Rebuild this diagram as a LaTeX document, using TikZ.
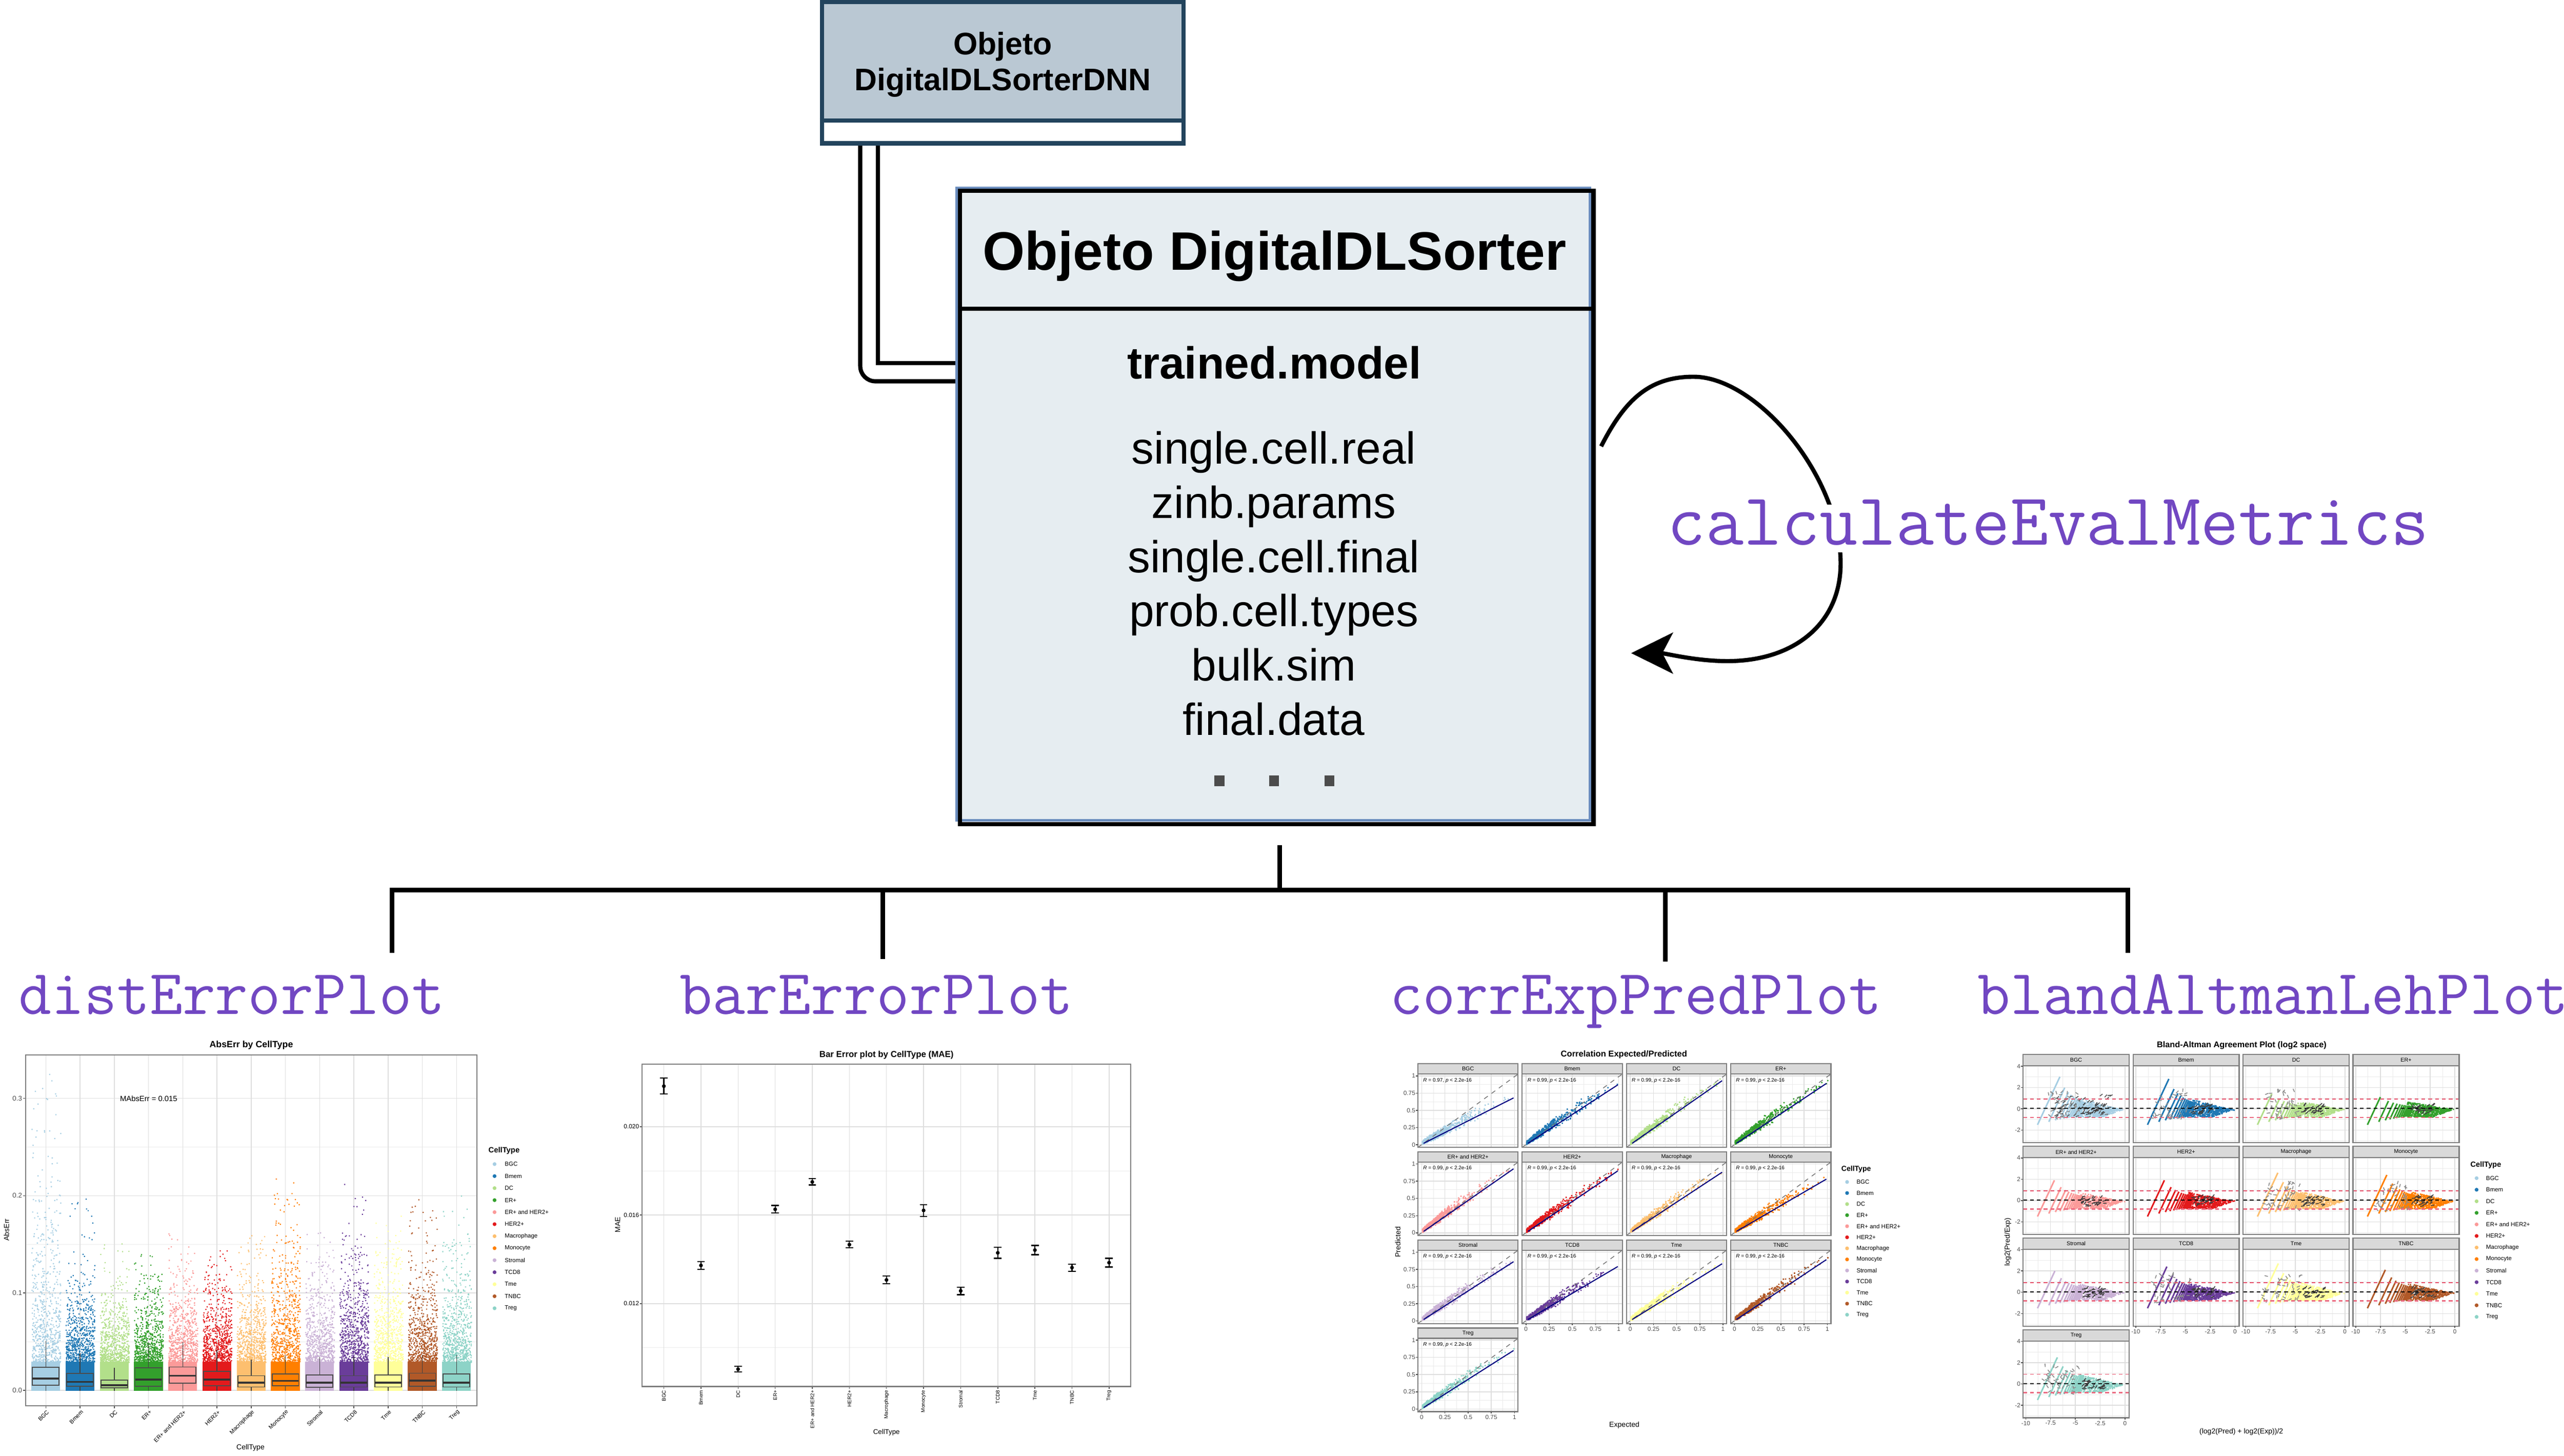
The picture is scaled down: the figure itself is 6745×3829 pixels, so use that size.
\documentclass[tikz,border=0pt]{standalone}
\usepackage{fontspec}
\setmainfont{Liberation Sans}
\usetikzlibrary{arrows.meta,calc}
\definecolor{c0}{HTML}{A6CEE3}\definecolor{c1}{HTML}{1F78B4}\definecolor{c2}{HTML}{B2DF8A}
\definecolor{c3}{HTML}{33A02C}\definecolor{c4}{HTML}{FB9A99}\definecolor{c5}{HTML}{E31A1C}
\definecolor{c6}{HTML}{FDBF6F}\definecolor{c7}{HTML}{FF7F00}\definecolor{c8}{HTML}{CAB2D6}
\definecolor{c9}{HTML}{6A3D9A}\definecolor{c10}{HTML}{FFFF99}\definecolor{c11}{HTML}{B15928}
\definecolor{c12}{HTML}{8DD3C7}
\definecolor{dnnfill}{HTML}{BAC8D3}\definecolor{dnnline}{HTML}{23445D}
\definecolor{mainfill}{HTML}{E6EDF1}\definecolor{mainblue}{HTML}{6C8EBF}
\definecolor{purp}{HTML}{7147C2}\definecolor{gridc}{HTML}{DEDEDE}\definecolor{tickc}{HTML}{4D4D4D}
\definecolor{framec}{HTML}{7F7F7F}\definecolor{stripc}{HTML}{D9D9D9}\definecolor{navy}{HTML}{000080}
\definecolor{ored}{HTML}{E8506A}
\newcommand\fpx[1]{\fontsize{\fpeval{#1*0.25}pt}{\fpeval{#1*0.29}pt}\selectfont}
\newcommand\codefont[1]{\ttfamily\addfontfeatures{FakeBold=3}\fpx{#1}}
\tikzset{
  lw/.style={line width=#1*0.25pt},
  lbl/.style={inner sep=0pt,outer sep=0pt},
  fnname/.style={lbl,anchor=base west,text=purp,font=\codefont{167.5}},
  conn/.style={draw=black,lw=12},
  grid major/.style={draw=gridc,lw=2},
  grid minor/.style={draw=gridc!60,lw=1.2},
  frame/.style={draw=framec,lw=3},
  strip/.style={draw=framec,fill=stripc,lw=3},
  plottitle/.style={lbl,font=\bfseries\fpx{#1}},
  axlabel/.style={lbl,font=\fpx{19}},
  ticktext/.style={lbl,text=tickc,font=\fpx{#1}},
  tickmark/.style={draw=tickc,lw=2},
}
\newcount\nn
\def\dotpx#1#2#3{\pgfpathrectangle{\pgfqpoint{0.25\dimexpr#1pt\relax}{-0.25\dimexpr#2pt\relax}}{\pgfqpoint{0.25\dimexpr#3pt\relax}{0.25\dimexpr#3pt\relax}}}
\def\dashpx#1#2#3#4{\pgfpathmoveto{\pgfqpoint{0.25\dimexpr#1pt\relax}{-0.25\dimexpr#2pt\relax}}\pgfpathlineto{\pgfqpoint{0.25\dimexpr#1pt+#3pt\relax}{-0.25\dimexpr#2pt+#4pt\relax}}}
% random short dashes of a contour: count, colour, x range, y range (in plot values)
\newcommand\contourbits[7]{%
  \begin{pgfscope}\pgfsetstrokecolor{#2}\pgfsetlinewidth{0.55pt}%
  \nn=0 \loop\ifnum\nn<#1 \advance\nn by 1
    \pgfmathsetmacro\xx{\xO+26.1*(#3+(#4-#3)*rnd)}%
    \pgfmathsetmacro\yy{\yO-28*(#5+(#6-#5)*rnd)}%
    \pgfmathsetmacro\aa{rnd*#7}%
    \pgfmathsetmacro\dx{9*cos(\aa)}\pgfmathsetmacro\dy{-9*sin(\aa)}%
    \dashpx{\xx}{\yy}{\dx}{\dy}%
  \repeat
  \pgfusepath{stroke}\end{pgfscope}%
}
% one column of the first plot
\newcommand\distcol[7]{%
  \pgfmathsetmacro\xc{120.4+90.05*#1}%
  \fill[c#1] (\xc-38,3658) rectangle (\xc+38,3582);
  \begin{pgfscope}\pgfsetfillcolor{c#1}%
  \nn=0 \loop\ifnum\nn<700 \advance\nn by 1
    \pgfmathsetmacro\vv{0.028-#6*ln(rnd+0.002)}%
    \ifdim\vv pt<#7pt
      \pgfmathsetmacro\xx{\xc-38+76*rnd}%
      \pgfmathsetmacro\yy{3657-2560*\vv}%
      \dotpx{\xx}{\yy}{3}%
    \fi
  \repeat
  \pgfusepath{fill}\end{pgfscope}
  \pgfmathsetmacro\ya{2500+#2/1.18}\pgfmathsetmacro\yb{2500+#3/1.18}%
  \pgfmathsetmacro\ym{2500+#4/1.18}\pgfmathsetmacro\yw{2500+#5/1.18}%
  \draw[draw=black!75,lw=2] (\xc,\yw) -- (\xc,\ya) (\xc,\yb) -- (\xc,3658);
  \draw[draw=black!70,lw=2.5] (\xc-35,\ya) rectangle (\xc+35,\yb);
  \draw[draw=black!80,lw=5] (\xc-35,\ym) -- (\xc+35,\ym);
  \draw[tickmark] (\xc,3698) -- (\xc,3704);
}
\newcommand\celllegend[7]{% title x,y,size; dot x; text x; y0; pitch
  \node[lbl,anchor=west,font=\bfseries\fpx{#3}] (lt#1) at (#1,#2) {CellType};
  \foreach[count=\ci from 0] \nm in {BGC,Bmem,DC,ER+,ER+ and HER2+,HER2+,Macrophage,Monocyte,Stromal,TCD8,Tme,TNBC,Treg}{
    \pgfmathsetmacro\yy{#6+#7*\ci}
    \fill[c\ci] (#4,\yy) circle (5);
    \node[lbl,anchor=west,font=\fpx{15.5}] (lg#1x\ci) at (#5,\yy) {\nm};
  }
}
\begin{document}
\begin{tikzpicture}[x=0.25pt,y=-0.25pt]
\useasboundingbox (0,0) rectangle (6745,3829);
\fill[white] (0,0) rectangle (6745,3829);
\pgfmathsetseed{42}
% ---------- named anchor points of the connectors
\coordinate (dnnA) at (2310,380);
\coordinate (dnnB) at (2263,380);
\coordinate (mainA) at (2520,955);
\coordinate (mainB) at (2520,1003);
\coordinate (sep) at (3350,812);
\coordinate (trunk) at (3366,2223);
\coordinate (bar) at (3366,2341);
\coordinate (barL) at (1025,2341);
\coordinate (barR) at (5603,2341);
\coordinate (drop1) at (1031,2507);
\coordinate (drop2) at (2322,2522);
\coordinate (drop3) at (4381,2529);
\coordinate (drop4) at (5597,2507);
\coordinate (loopS) at (4212,1174);
\coordinate (loopT) at (4455,991);
\coordinate (loopR) at (4842,1482);
\coordinate (loopB) at (4544,1739);
\coordinate (loopE) at (4291,1718);
% ---------- inheritance connectors
\draw[conn,lw=11] (dnnA) |- (mainA);
\draw[conn,lw=11,rounded corners=10pt] (dnnB) |- (mainB);
% ---------- top box
\node[draw=dnnline,lw=11,fill=white,inner sep=0pt,minimum width=238pt,minimum height=92.75pt] (dnn) at (2638,191.5) {};
\fill[dnnfill] (2167.5,11) rectangle (3108.5,311);
\draw[draw=dnnline,lw=11] (dnn.west |- 0,317) -- (dnn.east |- 0,317);
\node[lbl,anchor=base,font=\bfseries\fpx{82}] (dnnT1) at (2638,144) {Objeto};
\node[lbl,anchor=base,font=\bfseries\fpx{82}] (dnnT2) at (2638,238) {DigitalDLSorterDNN};
% ---------- main box
\node[draw=mainblue,lw=7,fill=mainfill,inner sep=0pt,minimum width=416.5pt,minimum height=415.75pt] (mainb) at (3350,1326.5) {};
\node[draw=black,lw=11,inner sep=0pt,minimum width=416.75pt,minimum height=416.5pt] (main) at (3358.5,1335) {};
\draw[draw=black,lw=11] (main.west |- sep) -- (main.east |- sep);
\node[lbl,anchor=base,font=\bfseries\fpx{142.5}] (mainT) at (3353,710) {Objeto DigitalDLSorter};
\node[lbl,anchor=base,font=\bfseries\fpx{118}] (mainM) at (3352,996) {trained.model};
\foreach[count=\i from 0] \tx in {single.cell.real,zinb.params,single.cell.final,prob.cell.types,bulk.sim,final.data}{
  \node[lbl,anchor=base,font=\fpx{118}] (slot\i) at (3351,{1220+142.8*\i}) {\tx};
}
\foreach \xx in {3208,3352,3497}{\fill[black!70] (\xx-13,2040) rectangle (\xx+13,2068);}
% ---------- self loop
\draw[draw=black,lw=11,-{Stealth[length=27.5pt,width=27pt,inset=7pt]}] (loopS) .. controls (4275,1050) and (4340,991) .. (loopT) .. controls (4620,991) and (4842,1250) .. (loopR) .. controls (4842,1640) and (4720,1739) .. (loopB) .. controls (4460,1739) and (4380,1718) .. (loopE);
\node[anchor=base west,inner sep=0pt,fill=white,text=purp,font=\codefont{194.5},text height=26.5pt,text depth=5pt] (calc) at (4386,1433) {calculateEvalMetrics};
% ---------- tree
\draw[conn] (trunk) -- (bar);
\draw[conn] (barL) -- (barR);
\draw[conn] (drop1 |- bar) -- (drop1);
\draw[conn] (drop2 |- bar) -- (drop2);
\draw[conn] (drop3 |- bar) -- (drop3);
\draw[conn] (drop4 |- bar) -- (drop4);
\node[fnname] (fn1) at (49,2667) {distErrorPlot};
\node[fnname] (fn2) at (1788,2667) {barErrorPlot};
\node[fnname] (fn3) at (3656,2667) {corrExpPredPlot};
\node[fnname] (fn4) at (5203,2667) {blandAltmanLehPlot};
% ---------- plot 1: distErrorPlot
\foreach \v in {0.05,0.15,0.25}{\draw[grid minor] (67,{3657-2560*\v}) -- (1255,{3657-2560*\v});}
\foreach \v in {0,0.1,0.2,0.3}{
  \draw[grid major] (67,{3657-2560*\v}) -- (1255,{3657-2560*\v});
  \draw[tickmark] (61,{3657-2560*\v}) -- (67,{3657-2560*\v});
  \node[ticktext=18,anchor=east] (d1y\v) at (58,{3657-2560*\v}) {\ifdim\v pt=0pt 0.0\else\v\fi};
}
\foreach \i in {0,...,12}{\draw[grid major] ({120.4+90.05*\i},2775) -- ({120.4+90.05*\i},3698);}
\distcol{0}{1294}{1349}{1329}{1212}{0.058}{0.33}
\distcol{1}{1313}{1353}{1339}{1250}{0.032}{0.21}
\distcol{2}{1333}{1358}{1349}{1295}{0.026}{0.15}
\distcol{3}{1296}{1352}{1332}{1215}{0.028}{0.14}
\distcol{4}{1293}{1343}{1320}{1215}{0.030}{0.17}
\distcol{5}{1307}{1351}{1332}{1240}{0.028}{0.15}
\distcol{6}{1320}{1355}{1341}{1270}{0.030}{0.16}
\distcol{7}{1314}{1351}{1336}{1255}{0.048}{0.22}
\distcol{8}{1318}{1356}{1342}{1262}{0.034}{0.17}
\distcol{9}{1320}{1355}{1342}{1260}{0.042}{0.22}
\distcol{10}{1318}{1355}{1341}{1262}{0.038}{0.18}
\distcol{11}{1312}{1352}{1335}{1255}{0.034}{0.20}
\distcol{12}{1315}{1355}{1341}{1255}{0.037}{0.20}
\draw[frame] (67,2775) rectangle (1255,3698);
\foreach[count=\i from 0] \nm in {BGC,Bmem,DC,ER+,ER+ and HER2+,HER2+,Macrophage,Monocyte,Stromal,TCD8,Tme,TNBC,Treg}{
  \node[ticktext=15,text=black,anchor=east,rotate=45] (d1x\i) at ({126+90.05*\i},3712) {\nm};
}
\node[plottitle=24] (d1title) at (661,2749) {AbsErr by CellType};
\node[axlabel,rotate=90] (d1yl) at (17,3235) {AbsErr};
\node[axlabel] (d1xl) at (659,3808) {CellType};
\node[lbl,font=\fpx{20}] (d1mae) at (391,2890) {MAbsErr = 0.015};
\celllegend{1285}{3027}{20}{1301}{1328}{3062}{31.6}
% ---------- plot 2: barErrorPlot
\foreach \y in {3080,3545}{\draw[grid minor] (1689,\y) -- (2975,\y);}
\foreach \y/\t in {2963.5/0.020,3196/0.016,3429/0.012}{
  \draw[grid major,lw=3] (1689,\y) -- (2975,\y);
  \draw[tickmark] (1683,\y) -- (1689,\y);
  \node[ticktext=16,text=black,anchor=east] (d2y\t) at (1681,\y) {\t};
}
\foreach[count=\i from 0] \nm/\pm/\pl/\ph in {BGC/218/189/247,Bmem/873/859/887,DC/1252/1241/1262,ER+/668/654/681,ER+ and HER2+/568/555/579,HER2+/797/784/808,Macrophage/926/911/940,Monocyte/672/651/694,Stromal/966/953/980,TCD8/827/807/847,Tme/817/800/834,TNBC/881/868/894,Treg/863/847/879}{
  \pgfmathsetmacro\xc{1746.4+97.6*\i}
  \pgfmathsetmacro\ya{2700+\pl/1.389}\pgfmathsetmacro\yb{2700+\ph/1.389}\pgfmathsetmacro\ym{2700+\pm/1.389}
  \draw[grid major] (\xc,2799) -- (\xc,3647);
  \draw[draw=black,lw=3] (\xc-10,\ya) -- (\xc+10,\ya) (\xc-10,\yb) -- (\xc+10,\yb) (\xc,\ya) -- (\xc,\yb);
  \fill[black] (\xc,\ym) circle (5);
  \draw[tickmark] (\xc,3647) -- (\xc,3653);
  \node[lbl,rotate=90,anchor=east,font=\fpx{13.5}] (d2x\i) at (\xc,3657) {\nm};
}
\draw[frame] (1689,2799) rectangle (2975,3647);
\node[plottitle=22.8] (d2title) at (2332,2775) {Bar Error plot by CellType (MAE)};
\node[axlabel,rotate=90] (d2yl) at (1625,3222) {MAE};
\node[axlabel,font=\fpx{18}] (d2xl) at (2332,3768) {CellType};
% ---------- plot 3: corrExpPredPlot
\foreach[count=\ci from 0] \colm/\rw/\nm/\sl/\Rv in {0/0/BGC/.68/0.97,1/0/Bmem/.87/0.99,2/0/DC/.93/0.99,3/0/ER+/.89/0.99,0/1/ER+ and HER2+/.93/0.99,1/1/HER2+/.90/0.99,2/1/Macrophage/.88/0.99,3/1/Monocyte/.78/0.99,0/2/Stromal/.86/0.99,1/2/TCD8/.79/0.99,2/2/Tme/.83/0.99,3/2/TNBC/.89/0.99,0/3/Treg/.85/0.99}{
  \pgfmathsetmacro\pL{3730+274.3*\colm}\pgfmathsetmacro\pR{\pL+263.5}
  \pgfmathsetmacro\pS{2798+231.7*\rw}\pgfmathsetmacro\pT{\pS+27}\pgfmathsetmacro\pB{\pS+220}
  \pgfmathsetmacro\xO{\pL+10}\pgfmathsetmacro\yO{\pB-7}\pgfmathsetmacro\yI{\pT+5}
  \foreach \f in {0.125,0.375,0.625,0.875}{
    \draw[grid minor] ({\xO+244*\f},\pT) -- ({\xO+244*\f},\pB);
    \draw[grid minor] (\pL,{\yO-(\yO-\yI)*\f}) -- (\pR,{\yO-(\yO-\yI)*\f});
  }
  \foreach \f in {0,0.25,0.5,0.75,1}{
    \draw[grid major] ({\xO+244*\f},\pT) -- ({\xO+244*\f},\pB);
    \draw[grid major] (\pL,{\yO-(\yO-\yI)*\f}) -- (\pR,{\yO-(\yO-\yI)*\f});
  }
  \begin{pgfscope}\pgfsetfillcolor{c\ci}
  \nn=0 \loop\ifnum\nn<600 \advance\nn by 1
    \pgfmathsetmacro\vv{-0.2*ln(rnd+0.002)}
    \ifdim\vv pt<1pt
      \pgfmathsetmacro\wy{\sl*\vv+0.02+0.5*(0.06+0.15*sin(180*\vv))*(rnd+rnd-1)+0.025*sin(180*\vv)}
      \pgfmathsetmacro\xx{\xO+244*\vv}
      \pgfmathsetmacro\yy{\yO-(\yO-\yI)*\wy}
      \dotpx{\xx}{\yy}{3.5}
    \fi
  \repeat
  \pgfusepath{fill}\end{pgfscope}
  \draw[draw=black!55,lw=2,dash pattern=on 3pt off 3pt] (\pL,\pB) -- (\pR,\pT);
  \draw[draw=navy,lw=2.8] ({\xO+5},{\yO-(\yO-\yI)*0.02}) -- ({\xO+244*0.99},{\yO-(\yO-\yI)*\sl});
  \draw[frame] (\pL,\pT) rectangle (\pR,\pB);
  \draw[strip] (\pL,\pS) rectangle (\pR,\pT);
  \node[lbl,font=\fpx{14.5}] (d3s\ci) at ({(\pL+\pR)/2},{(\pS+\pT)/2}) {\nm};
  \node[lbl,anchor=west,font=\fpx{13.5}] (d3r\ci) at ({\pL+14},{\pT+17}) {\textit{R} = \Rv, \textit{p} < 2.2e-16};
  \ifnum\colm=0
    \foreach \f/\t in {0/0,0.25/0.25,0.5/0.5,0.75/0.75,1/1}{
      \draw[tickmark] ({\pL-5},{\yO-(\yO-\yI)*\f}) -- (\pL,{\yO-(\yO-\yI)*\f});
      \node[ticktext=16,anchor=east] (d3y\ci x\t) at ({\pL-7},{\yO-(\yO-\yI)*\f}) {\t};
    }
  \fi
  \pgfmathtruncatemacro\lastrow{\colm==0?3:2}
  \ifnum\rw=\lastrow
    \foreach \f/\t in {0/0,0.25/0.25,0.5/0.5,0.75/0.75,1/1}{
      \draw[tickmark] ({\xO+244*\f},\pB) -- ({\xO+244*\f},{\pB+5});
      \node[ticktext=16] (d3x\ci x\t) at ({\xO+244*\f},{\pB+15}) {\t};
    }
  \fi
}
\node[plottitle=22.3] (d3title) at (4272,2774) {Correlation Expected/Predicted};
\node[axlabel,rotate=90] (d3yl) at (3677,3267) {Predicted};
\node[axlabel] (d3xl) at (4273,3749) {Expected};
\celllegend{4844}{3075}{19}{4859}{4884}{3109}{29.1}
% ---------- plot 4: blandAltmanLehPlot
\foreach[count=\ci from 0] \colm/\rw/\nm/\aA/\cn in {0/0/BGC/3.0/3,1/0/Bmem/2.8/2,2/0/DC/1.4/2,3/0/ER+/1.1/1,0/1/ER+ and HER2+/1.9/1,1/1/HER2+/1.9/1,2/1/Macrophage/2.6/2,3/1/Monocyte/2.4/2,0/2/Stromal/2.0/1,1/2/TCD8/2.4/2,2/2/Tme/2.7/2,3/2/TNBC/2.1/1,0/3/Treg/2.5/2}{
  \pgfmathsetmacro\pL{5322+289.3*\colm}\pgfmathsetmacro\pR{\pL+279}
  \pgfmathsetmacro\pS{2774+241.3*\rw}\pgfmathsetmacro\pT{\pS+29.5}\pgfmathsetmacro\pB{\pS+231.5}
  \pgfmathsetmacro\xO{\pL+268}\pgfmathsetmacro\yO{\pT+113}
  \foreach \f in {-8.75,-6.25,-3.75,-1.25}{\draw[grid minor] ({\xO+26.1*\f},\pT) -- ({\xO+26.1*\f},\pB);}
  \foreach \f in {-3,-1,1,3}{\draw[grid minor] (\pL,{\yO-28*\f}) -- (\pR,{\yO-28*\f});}
  \foreach \f in {-10,-7.5,-5,-2.5,0}{\draw[grid major] ({\xO+26.1*\f},\pT) -- ({\xO+26.1*\f},\pB);}
  \foreach \f in {-2,0,2,4}{\draw[grid major] (\pL,{\yO-28*\f}) -- (\pR,{\yO-28*\f});}
  \foreach \k in {1,...,14}{
    \pgfmathsetmacro\xo{log2(\k/267)}
    \pgfmathsetmacro\yh{\aA*2^(-(\xo+8.06)*0.6)}
    \pgfmathsetmacro\yl{-1.5*2^(-(\xo+8.06)*0.3)}
    \draw[draw=c\ci,lw=4] ({\xO+26.1*(\xo+\yl/2)},{\yO-28*\yl}) -- ({\xO+26.1*(\xo+\yh/2)},{\yO-28*\yh});
  }
  \begin{pgfscope}\pgfsetfillcolor{c\ci}
  \nn=0 \loop\ifnum\nn<520 \advance\nn by 1
    \pgfmathsetmacro\kk{8-45*ln(rnd+0.002)}
    \ifdim\kk pt<267pt
      \pgfmathsetmacro\xo{log2(\kk/267)}
      \pgfmathsetmacro\yup{(-\xo*0.2-0.2)*(0.5+\aA/5)}
      \pgfmathsetmacro\ylo{max(-0.85,-0.05+0.42*\xo)}
      \pgfmathsetmacro\yv{\ylo+(\yup-\ylo)*rnd}
      \pgfmathsetmacro\xx{\xO+26.1*(\xo+\yv/2)}
      \pgfmathsetmacro\yy{\yO-28*\yv}
      \dotpx{\xx}{\yy}{3.5}
    \fi
  \repeat
  \pgfusepath{fill}\end{pgfscope}
  \ifnum\cn>1
    \contourbits{45}{black!45}{-8.2}{-4.5}{-1}{1.6}{180}
  \fi
  \ifnum\cn>2
    \contourbits{50}{black!65}{-7.5}{-1.5}{-0.8}{1.4}{60}
  \fi
  \contourbits{28}{black!75}{-4.5}{-2.2}{-0.55}{0.35}{60}
  \draw[draw=ored,lw=2.5,dash pattern=on 2.5pt off 2pt] (\pL,{\yO-28*0.92}) -- (\pR,{\yO-28*0.92});
  \draw[draw=ored!85,lw=4,dash pattern=on 2.5pt off 2pt] (\pL,{\yO+28*0.82}) -- (\pR,{\yO+28*0.82});
  \draw[draw=black,lw=2.6,dash pattern=on 2.5pt off 2pt] (\pL,{\yO-1}) -- (\pR,{\yO-1});
  \draw[frame] (\pL,\pT) rectangle (\pR,\pB);
  \draw[strip] (\pL,\pS) rectangle (\pR,\pT);
  \node[lbl,font=\fpx{14.5}] (d4s\ci) at ({(\pL+\pR)/2},{(\pS+\pT)/2}) {\nm};
  \ifnum\colm=0
    \foreach \f in {-2,0,2,4}{
      \draw[tickmark] ({\pL-5},{\yO-28*\f}) -- (\pL,{\yO-28*\f});
      \node[ticktext=16,anchor=east] (d4y\ci x\f) at ({\pL-7},{\yO-28*\f}) {\f};
    }
  \fi
  \pgfmathtruncatemacro\lastrow{\colm==0?3:2}
  \ifnum\rw=\lastrow
    \foreach \f in {-10,-7.5,-5,-2.5,0}{
      \draw[tickmark] ({\xO+26.1*\f},\pB) -- ({\xO+26.1*\f},{\pB+5});
      \node[ticktext=16] (d4x\ci x\f) at ({\xO+26.1*\f},{\pB+14}) {\f};
    }
  \fi
}
\node[plottitle=22] (d4title) at (5897,2750) {Bland-Altman Agreement Plot (log2 space)};
\node[axlabel,rotate=90] (d4yl) at (5282,3267) {log2(Pred/Exp)};
\node[axlabel] (d4xl) at (5896,3766) {(log2(Pred) + log2(Exp))/2};
\celllegend{6499}{3064}{19.7}{6515}{6540}{3099}{30.4}
\end{tikzpicture}
\end{document}
